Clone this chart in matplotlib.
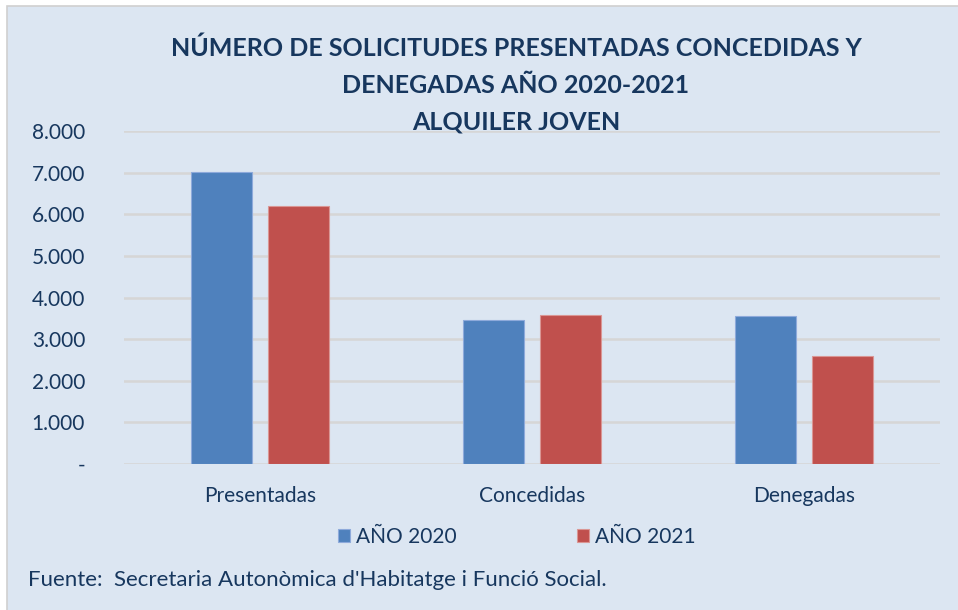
import numpy as np
import matplotlib.pyplot as plt
from matplotlib.patches import Rectangle
from matplotlib.ticker import FuncFormatter

# Data
categories = ["Presentadas", "Concedidas", "Denegadas"]
series_names = ["AÑO 2020", "AÑO 2021"]
values_2020 = [7020, 3460, 3550]
values_2021 = [6200, 3590, 2600]

W, H = 958, 610
BG = "#DCE6F2"
TXT = "#17375E"
BLUE = "#4F81BD"
RED = "#C0504D"

plt.rcParams['font.family'] = ['Lato', 'DejaVu Sans']

fig = plt.figure(figsize=(W / 100, H / 100), dpi=100, facecolor="white")

# chart area background with thin grey border
fig.patches.append(Rectangle((7 / W, -0.01), 1.0, (H - 6) / H + 0.01,
                             transform=fig.transFigure, facecolor=BG,
                             edgecolor="#D0D0D0", linewidth=1.2, zorder=-10))

ax = fig.add_axes([124 / W, (H - 464) / H, 816 / W, (464 - 131) / H])
ax.set_facecolor("none")

x = np.arange(len(categories))
bw = 0.225
off = 0.1425
ax.bar(x - off, values_2020, bw, color=BLUE, edgecolor="#8EAADB",
       linewidth=0.8, label=series_names[0], zorder=3)
ax.bar(x + off, values_2021, bw, color=RED, edgecolor="#DA9694",
       linewidth=0.8, label=series_names[1], zorder=3)

ax.set_xlim(-0.5, 2.5)
ax.set_ylim(0, 8000)
ax.set_yticks(np.arange(0, 8001, 1000))
ax.yaxis.set_major_formatter(FuncFormatter(
    lambda v, p: "-" if v == 0 else f"{int(v):,}".replace(",", ".")))
ax.set_xticks(x)
ax.set_xticklabels(categories)

ax.grid(axis="y", color="#D6D6D6", linewidth=1.8, zorder=1)
ax.set_axisbelow(True)
for s in ax.spines.values():
    s.set_visible(False)
ax.tick_params(axis="both", length=0, colors=TXT, labelsize=15)
ax.tick_params(axis="y", pad=28)
ax.tick_params(axis="x", pad=16)

fig.text(516 / W, 1 - 37 / H, "NÚMERO DE SOLICITUDES PRESENTADAS CONCEDIDAS Y\n"
         "DENEGADAS AÑO 2020-2021\nALQUILER JOVEN",
         ha="center", va="top", fontsize=18, fontweight="bold", color=TXT,
         linespacing=1.72)

leg = fig.legend(loc="center", bbox_to_anchor=(517 / W, 1 - 537 / H), ncol=2,
                 frameon=False, fontsize=15, handlelength=0.55,
                 handleheight=0.55, handletextpad=0.3, columnspacing=5.8)
for t in leg.get_texts():
    t.set_color(TXT)

fig.text(28 / W, 1 - 580 / H,
         "Fuente:  Secretaria Autonòmica d'Habitatge i Funció Social.",
         ha="left", va="center", fontsize=16, color=TXT)

fig.savefig("out.png", dpi=100, facecolor="white")
